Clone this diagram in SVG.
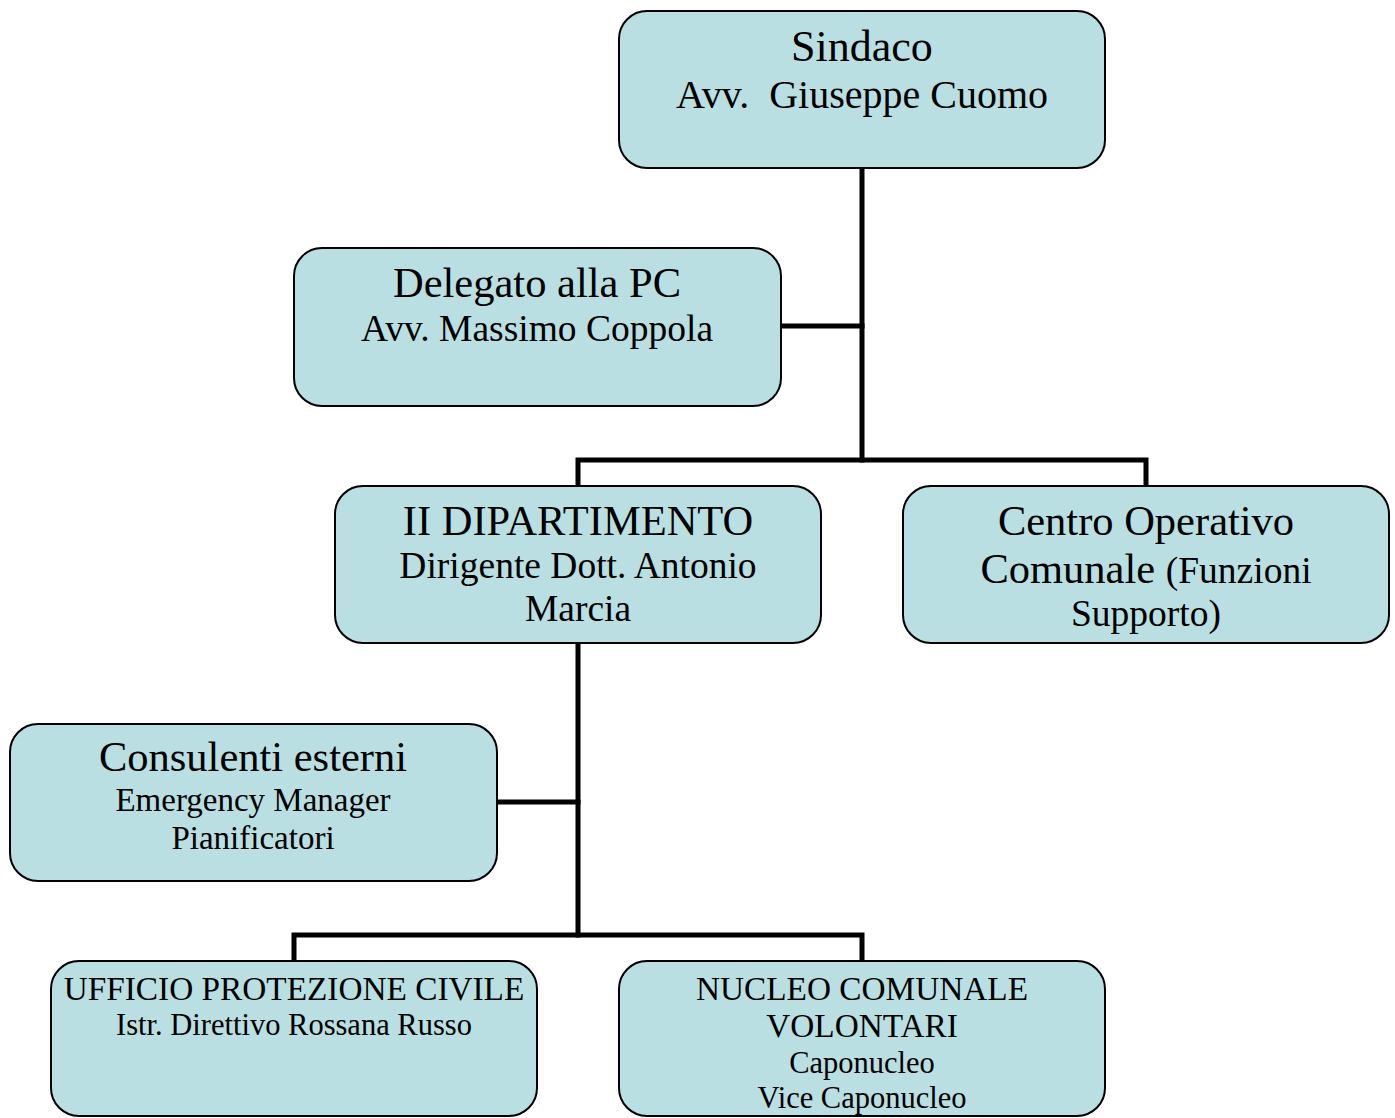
<svg xmlns="http://www.w3.org/2000/svg" width="1395" height="1118" viewBox="0 0 1395 1118">
<style>
.box{fill:#b9dfe2;stroke:#000;stroke-width:2}
.t{font-family:"Liberation Serif","Times New Roman",serif;fill:#000;text-anchor:middle;white-space:pre}
.conn{fill:none;stroke:#000;stroke-width:5;stroke-linecap:square;stroke-linejoin:miter}
</style>
<rect width="1395" height="1118" fill="#fff"/>
<g id="connectors">
<path class="conn" d="M862 168 V460"/>
<path class="conn" d="M781 326 H862"/>
<path class="conn" d="M578 486 V460 H1146 V486"/>
<path class="conn" d="M578 643 V935"/>
<path class="conn" d="M497 802 H578"/>
<path class="conn" d="M294 961 V935 H862 V961"/>
</g>
<g id="sindaco">
<rect class="box" x="619" y="11" width="486" height="157" rx="28"/>
<text class="t" x="862" y="61" font-size="44">Sindaco</text>
<text class="t" x="862" y="108" font-size="40">Avv.  Giuseppe Cuomo</text>
</g>
<g id="delegato">
<rect class="box" x="294" y="248" width="487" height="158" rx="28"/>
<text class="t" x="537" y="297" font-size="42.5">Delegato alla PC</text>
<text class="t" x="537" y="341" font-size="37.5">Avv. Massimo Coppola</text>
</g>
<g id="dipartimento">
<rect class="box" x="335" y="486" width="486" height="157" rx="28"/>
<text class="t" x="578" y="535" font-size="42.5">II DIPARTIMENTO</text>
<text class="t" x="578" y="578" font-size="37.5">Dirigente Dott. Antonio</text>
<text class="t" x="578" y="621" font-size="37.5">Marcia</text>
</g>
<g id="centro">
<rect class="box" x="903" y="486" width="486" height="157" rx="28"/>
<text class="t" x="1146" y="535" font-size="42.5">Centro Operativo</text>
<text class="t" x="1146" y="583" font-size="42.5">Comunale <tspan font-size="37.5">(Funzioni</tspan></text>
<text class="t" x="1146" y="626" font-size="37.5">Supporto)</text>
</g>
<g id="consulenti">
<rect class="box" x="10" y="724" width="487" height="157" rx="28"/>
<text class="t" x="253" y="771" font-size="42.5">Consulenti esterni</text>
<text class="t" x="253" y="811" font-size="33">Emergency Manager</text>
<text class="t" x="253" y="849" font-size="33">Pianificatori</text>
</g>
<g id="ufficio">
<rect class="box" x="51" y="961" width="486" height="155" rx="28"/>
<text class="t" x="294" y="1000" font-size="33.3">UFFICIO PROTEZIONE CIVILE</text>
<text class="t" x="294" y="1035" font-size="30.5">Istr. Direttivo Rossana Russo</text>
</g>
<g id="nucleo">
<rect class="box" x="619" y="961" width="486" height="155" rx="28"/>
<text class="t" x="862" y="1000" font-size="33.3">NUCLEO COMUNALE</text>
<text class="t" x="862" y="1037" font-size="33.3">VOLONTARI</text>
<text class="t" x="862" y="1073" font-size="30.5">Caponucleo</text>
<text class="t" x="862" y="1108" font-size="30.5">Vice Caponucleo</text>
</g>
</svg>
